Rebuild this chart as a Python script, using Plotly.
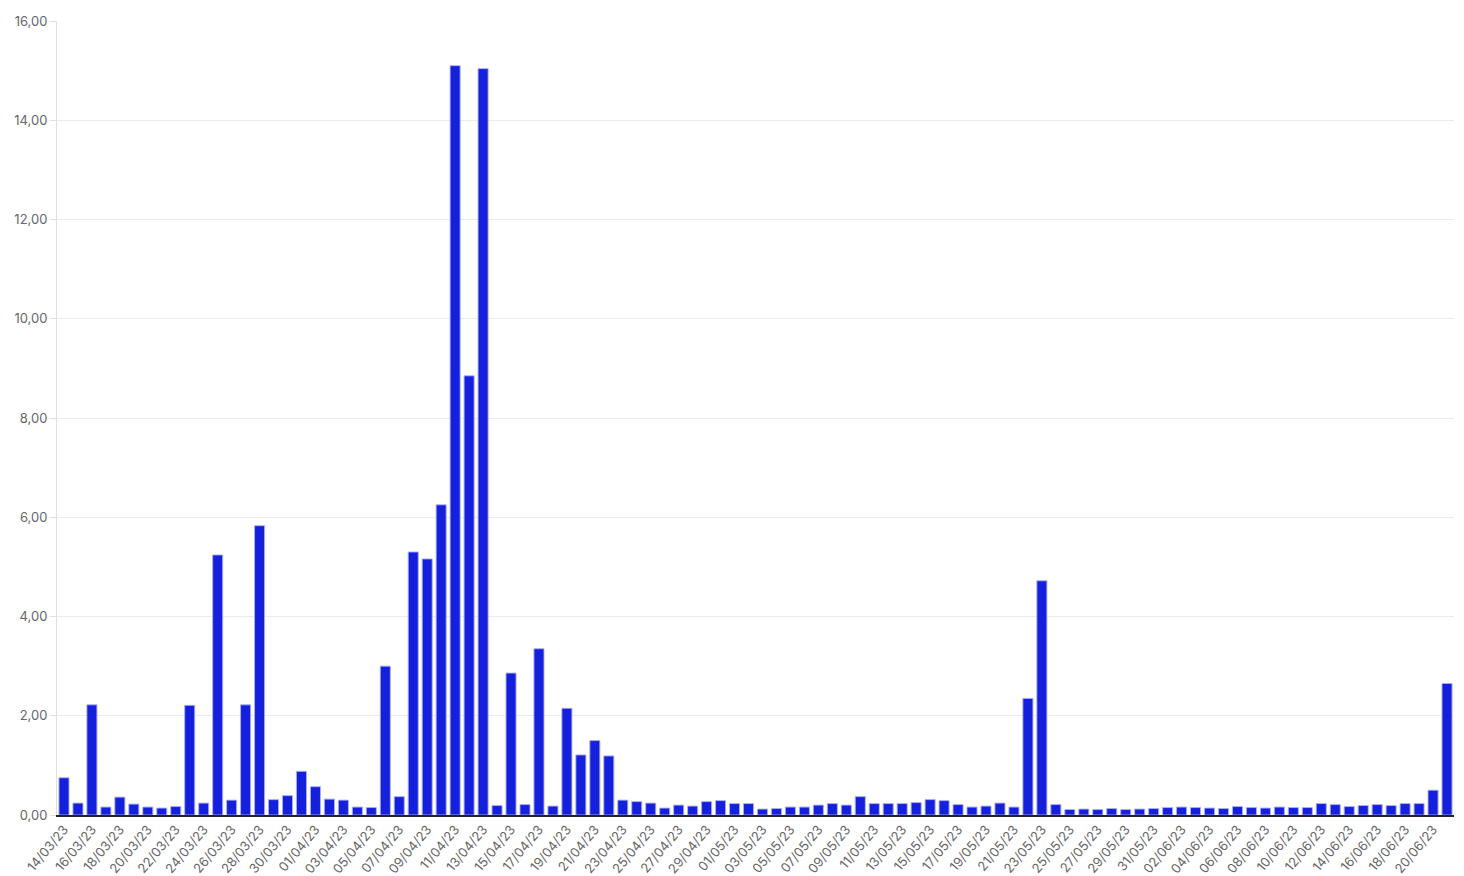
import plotly.graph_objects as go
import datetime as dt

start = dt.date(2023, 3, 14)
dates = [(start + dt.timedelta(days=i)).strftime("%d/%m/%y") for i in range(100)]

values = [
    0.75, 0.24, 2.22, 0.16, 0.36, 0.22, 0.16, 0.14, 0.17, 2.21,
    0.24, 5.24, 0.30, 2.22, 5.83, 0.31, 0.39, 0.88, 0.57, 0.32,
    0.30, 0.16, 0.15, 3.00, 0.37, 5.30, 5.16, 6.25, 15.10, 8.85,
    15.04, 0.19, 2.86, 0.21, 3.35, 0.18, 2.15, 1.21, 1.50, 1.19,
    0.30, 0.27, 0.24, 0.14, 0.20, 0.18, 0.27, 0.29, 0.23, 0.23,
    0.12, 0.13, 0.16, 0.16, 0.20, 0.23, 0.20, 0.37, 0.23, 0.23,
    0.23, 0.25, 0.31, 0.29, 0.21, 0.16, 0.18, 0.24, 0.16, 2.35,
    4.72, 0.21, 0.11, 0.12, 0.11, 0.13, 0.11, 0.12, 0.13, 0.15,
    0.16, 0.15, 0.14, 0.13, 0.17, 0.15, 0.14, 0.16, 0.15, 0.15,
    0.23, 0.21, 0.17, 0.19, 0.21, 0.19, 0.23, 0.23, 0.50, 2.65,
]

tick_labels = dates[::2]
y_ticks = [0, 2, 4, 6, 8, 10, 12, 14, 16]

fig = go.Figure(go.Bar(
    x=dates, y=values,
    marker=dict(color="#1520DD", line=dict(color="rgba(170,175,240,0.9)", width=1)),
))

fig.update_layout(
    width=1464, height=876,
    margin=dict(l=57, r=10, t=21, b=61),
    paper_bgcolor="white", plot_bgcolor="white",
    bargap=0.28,
    separators=",.",
    font=dict(family="Inter, Roboto, sans-serif", size=13, color="#666666"),
    showlegend=False,
)
fig.update_xaxes(
    type="category", automargin=False,
    tickmode="array", tickvals=tick_labels, ticktext=tick_labels,
    tickangle=-50,
    showline=True, linecolor="#222222", linewidth=1.5,
    showgrid=False, ticks="", tickfont=dict(size=13, color="#666666"),
)
fig.update_yaxes(
    range=[0, 16], tickvals=y_ticks, tickformat=".2f", automargin=False,
    showgrid=True, gridcolor="#EBEBEB", gridwidth=1,
    showline=True, linecolor="#E0E0E0", linewidth=1,
    zeroline=False, ticks="outside", ticklen=6, tickcolor="#E0E0E0",
    tickfont=dict(size=13, color="#666666"),
)

fig.write_html(
    "out.html",
    config={"displayModeBar": False},
    post_script="document.body.style.margin='0';document.body.style.overflow='hidden';",
)
